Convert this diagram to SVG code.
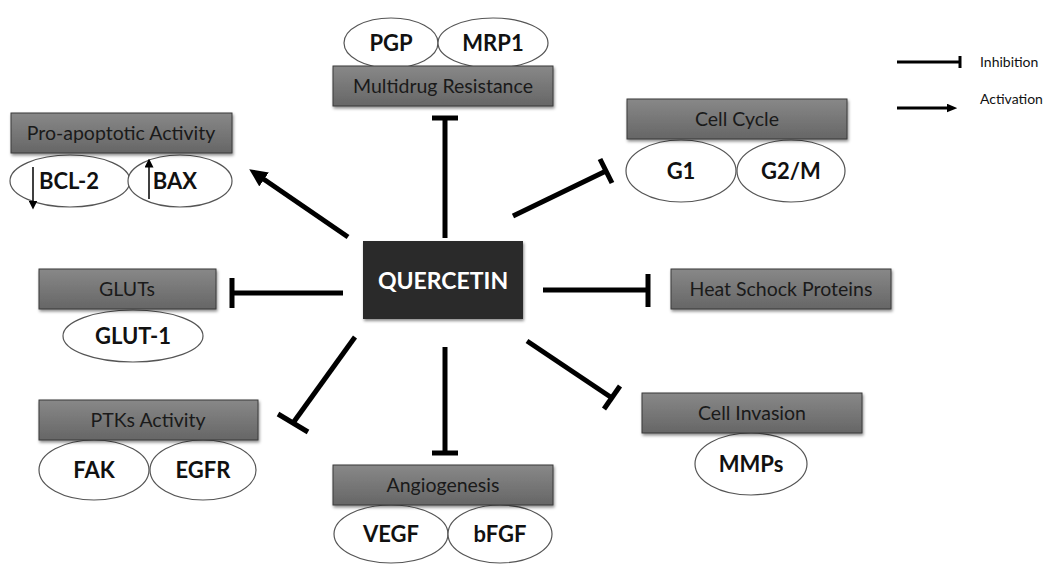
<svg xmlns="http://www.w3.org/2000/svg" width="1047" height="564" viewBox="0 0 1047 564">
<defs>
<linearGradient id="gb" x1="0" y1="0" x2="0" y2="1">
<stop offset="0" stop-color="#888"/>
<stop offset="1" stop-color="#666"/>
</linearGradient>
<filter id="sh" x="-10%" y="-20%" width="130%" height="150%">
<feDropShadow dx="1" dy="2" stdDeviation="1.5" flood-color="#000" flood-opacity="0.45"/>
</filter>
<marker id="arr" markerWidth="3.6" markerHeight="3.4" refX="0.5" refY="1.7" orient="auto" markerUnits="strokeWidth">
<path d="M0,0 L3.6,1.7 L0,3.4 Z" fill="#000"/>
</marker>
<marker id="arrl" markerWidth="3.6" markerHeight="3" refX="0.5" refY="1.5" orient="auto" markerUnits="strokeWidth">
<path d="M0,0 L3.6,1.5 L0,3 Z" fill="#000"/>
</marker>
<marker id="arrs" markerWidth="6" markerHeight="6" refX="1" refY="3" orient="auto" markerUnits="strokeWidth">
<path d="M0,0 L6,3 L0,6 Z" fill="#000"/>
</marker>
</defs>
<style>
.box{fill:url(#gb);stroke:#3a3a3a;stroke-width:1;filter:url(#sh)}
.bt{font-family:Lato,"Liberation Sans",sans-serif;font-size:19.5px;fill:#1a1a1a;text-anchor:middle}
.el{fill:#fff;stroke:#555;stroke-width:1.2}
.et{font-family:Lato,"Liberation Sans",sans-serif;font-size:22px;font-weight:bold;fill:#111;text-anchor:middle}
.ln{stroke:#000;stroke-width:5;fill:none}
.lg{stroke:#000;stroke-width:3;fill:none}
.lt{font-family:Lato,"Liberation Sans",sans-serif;font-size:14px;fill:#111}
</style>
<rect width="1047" height="564" fill="#fff"/>

<g id="quercetin">
<rect x="363" y="241" width="160" height="78" fill="#2b2b2b" filter="url(#sh)"/>
<text x="443" y="289" font-family="Lato,'Liberation Sans',sans-serif" font-size="23" font-weight="bold" fill="#fff" text-anchor="middle">QUERCETIN</text>
</g>

<g id="multidrug">
<ellipse class="el" cx="391" cy="43" rx="47" ry="25"/>
<ellipse class="el" cx="493" cy="43" rx="55" ry="25"/>
<text class="et" x="391" y="51">PGP</text>
<text class="et" x="493" y="51">MRP1</text>
<rect class="box" x="333" y="66" width="220" height="40"/>
<text class="bt" x="443" y="93">Multidrug Resistance</text>
</g>

<g id="proapoptotic">
<ellipse class="el" cx="70" cy="181" rx="60" ry="26"/>
<ellipse class="el" cx="180" cy="181" rx="52" ry="26"/>
<text class="et" x="69" y="189">BCL-2</text>
<text class="et" x="175" y="189">BAX</text>
<line x1="33" y1="167" x2="33" y2="202" stroke="#000" stroke-width="1.5" marker-end="url(#arrs)"/>
<line x1="149" y1="199" x2="149" y2="166" stroke="#000" stroke-width="1.5" marker-end="url(#arrs)"/>
<rect class="box" x="11" y="113" width="221" height="40"/>
<text class="bt" x="121" y="140">Pro-apoptotic Activity</text>
</g>

<g id="cellcycle">
<ellipse class="el" cx="681" cy="171" rx="55" ry="31"/>
<ellipse class="el" cx="791" cy="171" rx="54" ry="31"/>
<text class="et" x="681" y="179">G1</text>
<text class="et" x="791" y="179">G2/M</text>
<rect class="box" x="627" y="99" width="220" height="40"/>
<text class="bt" x="737" y="126">Cell Cycle</text>
</g>

<g id="gluts">
<ellipse class="el" cx="133" cy="336" rx="70" ry="26"/>
<text class="et" x="133" y="344">GLUT-1</text>
<rect class="box" x="39" y="269" width="177" height="40"/>
<text class="bt" x="127" y="296">GLUTs</text>
</g>

<g id="heatshock">
<rect class="box" x="671" y="269" width="220" height="40"/>
<text class="bt" x="781" y="296">Heat Schock Proteins</text>
</g>

<g id="ptks">
<ellipse class="el" cx="94" cy="470" rx="55" ry="30"/>
<ellipse class="el" cx="203" cy="470" rx="53" ry="30"/>
<text class="et" x="94" y="478">FAK</text>
<text class="et" x="203" y="478">EGFR</text>
<rect class="box" x="39" y="400" width="219" height="40"/>
<text class="bt" x="148" y="427">PTKs Activity</text>
</g>

<g id="angiogenesis">
<ellipse class="el" cx="391" cy="534" rx="57" ry="29"/>
<ellipse class="el" cx="500" cy="534" rx="52" ry="29"/>
<text class="et" x="391" y="542">VEGF</text>
<text class="et" x="500" y="542">bFGF</text>
<rect class="box" x="333" y="465" width="220" height="40"/>
<text class="bt" x="443" y="492">Angiogenesis</text>
</g>

<g id="cellinvasion">
<ellipse class="el" cx="751" cy="464" rx="56" ry="31"/>
<text class="et" x="751" y="472">MMPs</text>
<rect class="box" x="642" y="393" width="220" height="40"/>
<text class="bt" x="752" y="420">Cell Invasion</text>
</g>

<g id="connectors">
<line class="ln" x1="445" y1="238" x2="445" y2="118"/>
<line class="ln" x1="432" y1="118" x2="458" y2="118"/>
<line class="ln" x1="348" y1="237" x2="262" y2="178" marker-end="url(#arr)"/>
<line class="ln" x1="513" y1="216" x2="606" y2="171"/>
<line class="ln" x1="600" y1="159" x2="612" y2="183"/>
<line class="ln" x1="343" y1="293" x2="232" y2="293"/>
<line class="ln" x1="232" y1="278" x2="232" y2="308"/>
<line class="ln" x1="543" y1="290" x2="648" y2="290"/>
<line class="ln" x1="648" y1="274" x2="648" y2="307"/>
<line class="ln" x1="355" y1="337" x2="293" y2="423"/>
<line class="ln" x1="278" y1="414" x2="308" y2="432"/>
<line class="ln" x1="445" y1="347" x2="445" y2="453"/>
<line class="ln" x1="432" y1="453" x2="458" y2="453"/>
<line class="ln" x1="527" y1="341" x2="612" y2="398"/>
<line class="ln" x1="604" y1="409" x2="620" y2="386"/>
</g>

<g id="legend">
<line class="lg" x1="897" y1="62" x2="960" y2="62"/>
<line class="lg" x1="960" y1="56" x2="960" y2="68"/>
<text class="lt" x="980" y="67">Inhibition</text>
<line class="lg" x1="897" y1="108" x2="948" y2="108" marker-end="url(#arrl)"/>
<text class="lt" x="980" y="104">Activation</text>
</g>
</svg>
